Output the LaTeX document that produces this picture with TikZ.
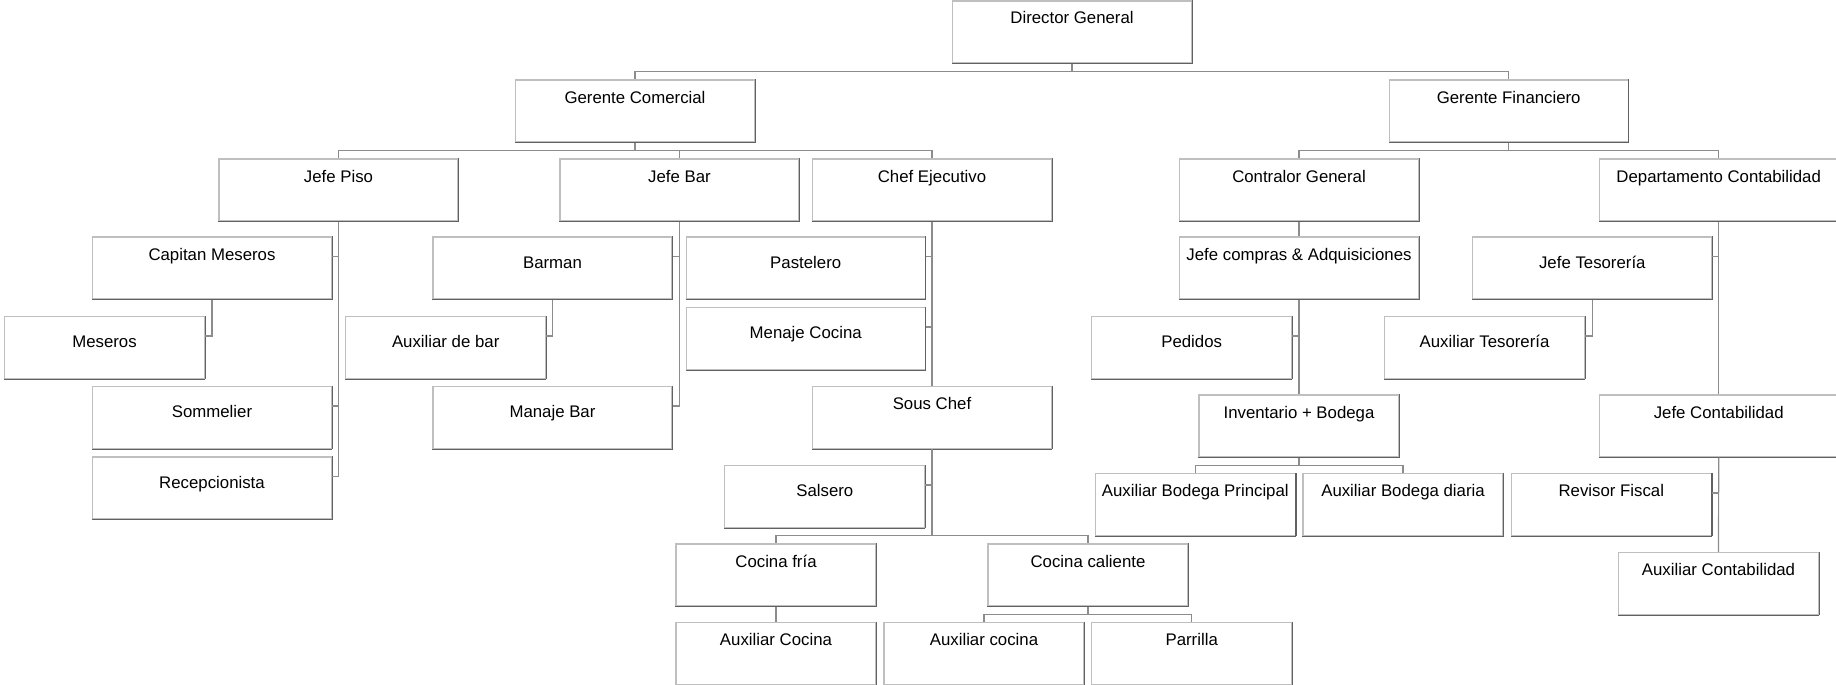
\documentclass[tikz,border=0pt]{standalone}
\usepackage{fontspec}
\setmainfont{Liberation Sans}
\definecolor{boxlight}{gray}{0.75}
\definecolor{boxdark}{gray}{0.38}
\definecolor{linkgray}{gray}{0.55}
\tikzset{box/.style={rectangle, draw=boxlight, line width=0.6pt, minimum width=119.5pt,
    minimum height=31pt, inner sep=0pt, font=\fontsize{8.4}{10}\selectfont,
    append after command={(\tikzlastnode.north east) edge[draw=boxdark, line width=0.6pt] (\tikzlastnode.south east)
      (\tikzlastnode.south east) edge[draw=boxdark, line width=0.6pt] (\tikzlastnode.south west)}}}
\tikzset{sbox/.style={box, minimum width=100pt}}
\tikzset{textup/.style={text height=5pt, text depth=13pt}}
\tikzset{textmid/.style={text height=5pt, text depth=5pt}}
\tikzset{link/.style={draw=linkgray, line width=0.6pt}}

\begin{document}
\begin{tikzpicture}[x=0.5pt, y=-0.5pt]
        \useasboundingbox (0,0) rectangle (1836,685);

        % top levels
        \node[box, textup] (dg) at (1072, 32) {Director General};
        \node[box, textup] (gc) at (635, 111) {Gerente Comercial};
        \node[box, textup] (gf) at (1508.7, 111) {Gerente Financiero};

        \node[box, textup] (jpiso) at (338.5, 190) {Jefe Piso};
        \node[box, textup] (jbar) at (679.5, 190) {Jefe Bar};
        \node[box, textup] (chef) at (932, 190) {Chef Ejecutivo};
        \node[box, textup] (contralor) at (1299, 190) {Contralor General};
        \node[box, textup] (depcont) at (1718.7, 190) {Departamento Contabilidad};

        % comercial side
        \node[box, textup] (capitan) at (212, 268) {Capitan Meseros};
        \node[sbox, textmid] (meseros) at (104.5, 347.5) {Meseros};
        \node[box, textmid] (sommelier) at (212, 417.5) {Sommelier};
        \node[box, textmid] (recep) at (212, 488) {Recepcionista};

        \node[box, textmid] (barman) at (552.5, 268) {Barman};
        \node[sbox, textmid] (auxbar) at (445.7, 347.5) {Auxiliar de bar};
        \node[box, textmid] (manajebar) at (552.5, 417.5) {Manaje Bar};

        \node[box, textmid] (pastelero) at (805.7, 268) {Pastelero};
        \node[box, textmid] (menaje) at (805.7, 338.5) {Menaje Cocina};
        \node[box, textup] (souschef) at (932, 417.5) {Sous Chef};
        \node[sbox, textmid] (salsero) at (824.8, 496.5) {Salsero};
        \node[sbox, textup] (cfria) at (776, 575) {Cocina fría};
        \node[sbox, textup] (ccal) at (1088, 575) {Cocina caliente};
        \node[sbox, textup] (auxcoc1) at (776, 653.5) {Auxiliar Cocina};
        \node[sbox, textup] (auxcoc2) at (984, 653.5) {Auxiliar cocina};
        \node[sbox, textup] (parrilla) at (1191.7, 653.5) {Parrilla};

        % financiero side
        \node[box, textup] (jcompras) at (1299, 268) {Jefe compras \& Adquisiciones};
        \node[sbox, textmid] (pedidos) at (1191.7, 347.5) {Pedidos};
        \node[sbox, textup] (invent) at (1299, 426) {Inventario + Bodega};
        \node[sbox, textup] (auxbodp) at (1195.3, 504.5) {Auxiliar Bodega Principal};
        \node[sbox, textup] (auxbodd) at (1403, 504.5) {Auxiliar Bodega diaria};

        \node[box, textmid] (jtesor) at (1592.3, 268) {Jefe Tesorería};
        \node[sbox, textmid] (auxtesor) at (1484.5, 347.5) {Auxiliar Tesorería};
        \node[box, textup] (jcont) at (1718.7, 426) {Jefe Contabilidad};
        \node[sbox, textup] (revisor) at (1611.3, 504.5) {Revisor Fiscal};
        \node[sbox, textup] (auxcont) at (1718.5, 583.5) {Auxiliar Contabilidad};

        \draw [link] (dg.south) -- ++(0,8) -| (gc.north);
        \draw [link] (dg.south) -- ++(0,8) -| (gf.north);
        \draw [link] (gc.south) -- ++(0,8) -| (jpiso.north);
        \draw [link] (gc.south) -- ++(0,8) -| (jbar.north);
        \draw [link] (gc.south) -- ++(0,8) -| (chef.north);
        \draw [link] (gf.south) -- ++(0,8) -| (contralor.north);
        \draw [link] (gf.south) -- ++(0,8) -| (depcont.north);

        \draw [link] (jpiso.south) |- ([yshift=-10pt]capitan.north east);
        \draw [link] (jpiso.south) |- ([yshift=-10pt]sommelier.north east);
        \draw [link] (jpiso.south) |- ([yshift=-10pt]recep.north east);
        \draw [link] (capitan.south) |- ([yshift=-10pt]meseros.north east);
        \draw [link] (jbar.south) |- ([yshift=-10pt]barman.north east);
        \draw [link] (jbar.south) |- ([yshift=-10pt]manajebar.north east);
        \draw [link] (barman.south) |- ([yshift=-10pt]auxbar.north east);
        \draw [link] (chef.south) |- ([yshift=-10pt]pastelero.north east);
        \draw [link] (chef.south) |- ([yshift=-10pt]menaje.north east);
        \draw [link] (chef.south) -- (souschef.north);
        \draw [link] (souschef.south) |- ([yshift=-10pt]salsero.north east);
        \draw [link] (souschef.south) |- ([yshift=4pt]cfria.north) -- (cfria.north);
        \draw [link] (souschef.south) |- ([yshift=4pt]ccal.north) -- (ccal.north);
        \draw [link] (cfria.south) -- (auxcoc1.north);
        \draw [link] (ccal.south) -- ++(0,8) -| (auxcoc2.north);
        \draw [link] (ccal.south) -- ++(0,8) -| (parrilla.north);

        \draw [link] (contralor.south) -- (jcompras.north);
        \draw [link] (jcompras.south) |- ([yshift=-10pt]pedidos.north east);
        \draw [link] (jcompras.south) -- (invent.north);
        \draw [link] (invent.south) -- ++(0,8) -| (auxbodp.north);
        \draw [link] (invent.south) -- ++(0,8) -| (auxbodd.north);
        \draw [link] (depcont.south) |- ([yshift=-10pt]jtesor.north east);
        \draw [link] (jtesor.south) |- ([yshift=-10pt]auxtesor.north east);
        \draw [link] (depcont.south) -- (jcont.north);
        \draw [link] (jcont.south) |- ([yshift=-10pt]revisor.north east);
        \draw [link] (jcont.south) -- (auxcont.north);

\end{tikzpicture}
\end{document}
